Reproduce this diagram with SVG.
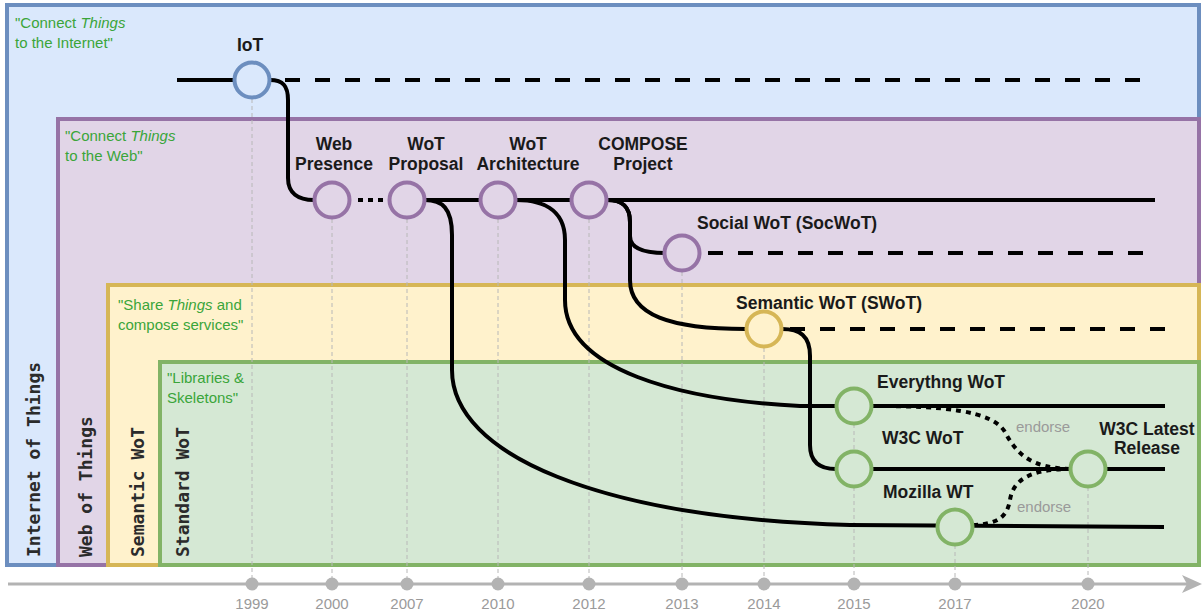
<svg xmlns="http://www.w3.org/2000/svg" width="1203" height="614" viewBox="0 0 1203 614">
<style>
.box{stroke-width:4}
.vlab{font-family:"DejaVu Sans Mono","Liberation Mono",monospace;font-weight:bold;font-size:18px;fill:#2b2b2b}
.quote{font-family:"Liberation Sans",Arial,sans-serif;font-size:15px;fill:#3aa53a}
.quote .it{font-style:italic}
.title{font-family:"Liberation Sans",Arial,sans-serif;font-weight:bold;font-size:17.5px;fill:#1a1a1a}
.mid{text-anchor:middle}
.year{font-family:"Liberation Sans",Arial,sans-serif;font-size:15px;fill:#9a9a9a;text-anchor:middle}
.guide{stroke:#b8b8b8;stroke-width:1;stroke-dasharray:4 3;fill:none}
.ln{stroke:#000;stroke-width:4;fill:none}
.dash{stroke-dasharray:15 15}
.dot{stroke-dasharray:5 5}
.endorse{font-family:"Liberation Sans",Arial,sans-serif;font-size:15px;fill:#9a9a9a}
.n{stroke-width:4}
.iot{fill:#dae8fc;stroke:#6c8ebf}
.wot{fill:#e1d5e7;stroke:#9673a6}
.sem{fill:#fff2cc;stroke:#d6b656}
.std{fill:#d5e8d4;stroke:#82b366}
</style>

<g id="layers">
  <g id="layer-iot">
    <rect class="box iot" x="7" y="5" width="1192" height="560"/>
    <text class="quote" x="15" y="28">"Connect <tspan class="it">Things</tspan></text>
    <text class="quote" x="15" y="48">to the Internet"</text>
    <text class="vlab" transform="translate(40,557) rotate(-90)">Internet of Things</text>
  </g>
  <g id="layer-wot">
    <rect class="box wot" x="58" y="119" width="1141" height="446"/>
    <text class="quote" x="65" y="141">"Connect <tspan class="it">Things</tspan></text>
    <text class="quote" x="65" y="161">to the Web"</text>
    <text class="vlab" transform="translate(92,557) rotate(-90)">Web of Things</text>
  </g>
  <g id="layer-semantic">
    <rect class="box sem" x="108" y="285" width="1091" height="280"/>
    <text class="quote" x="118" y="310">"Share <tspan class="it">Things</tspan> and</text>
    <text class="quote" x="118" y="330">compose services"</text>
    <text class="vlab" transform="translate(144,557) rotate(-90)">Semantic WoT</text>
  </g>
  <g id="layer-standard">
    <rect class="box std" x="160" y="362" width="1039" height="203"/>
    <text class="quote" x="167" y="383">"Libraries &amp;</text>
    <text class="quote" x="167" y="403">Skeletons"</text>
    <text class="vlab" transform="translate(189,557) rotate(-90)">Standard WoT</text>
  </g>
</g>

<g id="timeline">
  <line class="guide" x1="252" y1="99" x2="252" y2="584"/>
  <line class="guide" x1="332" y1="219" x2="332" y2="584"/>
  <line class="guide" x1="407" y1="219" x2="407" y2="584"/>
  <line class="guide" x1="498" y1="219" x2="498" y2="584"/>
  <line class="guide" x1="589" y1="219" x2="589" y2="584"/>
  <line class="guide" x1="682" y1="272" x2="682" y2="584"/>
  <line class="guide" x1="764" y1="348" x2="764" y2="584"/>
  <line class="guide" x1="854" y1="424" x2="854" y2="584"/>
  <line class="guide" x1="955" y1="545" x2="955" y2="584"/>
  <line class="guide" x1="1088" y1="487" x2="1088" y2="584"/>
  <line x1="8" y1="584" x2="1188" y2="584" stroke="#b3b3b3" stroke-width="3"/>
  <polygon points="1202,584 1182,575 1187,584 1182,593" fill="#b3b3b3"/>
  <g fill="#b3b3b3">
    <circle cx="252" cy="584" r="6.5"/>
    <circle cx="332" cy="584" r="6.5"/>
    <circle cx="407" cy="584" r="6.5"/>
    <circle cx="498" cy="584" r="6.5"/>
    <circle cx="589" cy="584" r="6.5"/>
    <circle cx="682" cy="584" r="6.5"/>
    <circle cx="764" cy="584" r="6.5"/>
    <circle cx="854" cy="584" r="6.5"/>
    <circle cx="955" cy="584" r="6.5"/>
    <circle cx="1088" cy="584" r="6.5"/>
  </g>
  <text class="year" x="252" y="609">1999</text>
  <text class="year" x="332" y="609">2000</text>
  <text class="year" x="407" y="609">2007</text>
  <text class="year" x="498" y="609">2010</text>
  <text class="year" x="589" y="609">2012</text>
  <text class="year" x="682" y="609">2013</text>
  <text class="year" x="764" y="609">2014</text>
  <text class="year" x="854" y="609">2015</text>
  <text class="year" x="955" y="609">2017</text>
  <text class="year" x="1088" y="609">2020</text>
</g>

<g id="connectors">
  <path class="ln" d="M177,80 L236,80"/>
  <path class="ln dash" d="M1140,80 L270,80"/>
  <path class="ln" d="M270,80 C283,80 288,86 288,100 L288,178 C288,193 298,200 314,200"/>
  <path class="ln dot" d="M358,200 L386,200"/>
  <path class="ln" d="M425,200 L1155,200"/>
  <path class="ln" d="M425,200 C442,200 452,208 452,235 L452,370 C452,455 600,518 850,525 L1164,527"/>
  <path class="ln" d="M516,200 C540,200 565,208 565,240 L565,300 C565,370 680,400 800,406 L1165,406"/>
  <path class="ln" d="M607,200 C622,200 630,206 630,222 L630,236 C630,248 642,253 665,253"/>
  <path class="ln dash" d="M1143,253 L701,253"/>
  <path class="ln" d="M607,200 C622,200 630,206 630,222 L630,280 C630,315 670,329 746,329"/>
  <path class="ln dash" d="M1165,329 L782,329"/>
  <path class="ln" d="M782,329 C800,329 810,336 810,356 L810,445 C810,462 820,469 836,469 L1165,469"/>
  <path class="ln dot" d="M876,406 C940,406 992,410 1005,432 C1017,455 1032,468 1070,469"/>
  <path class="ln dot" d="M973,525 C998,524 1007,517 1010,500 C1013,480 1030,469 1070,469"/>
  <text class="endorse" x="1016" y="432">endorse</text>
  <text class="endorse" x="1017" y="512">endorse</text>
</g>

<g id="node-iot">
  <circle class="n iot" cx="252" cy="80" r="17.5"/>
  <text class="title mid" x="250" y="51">IoT</text>
</g>
<g id="node-web-presence">
  <circle class="n wot" cx="332" cy="200" r="17.5"/>
  <text class="title mid" x="334" y="150">Web</text>
  <text class="title mid" x="334" y="170">Presence</text>
</g>
<g id="node-wot-proposal">
  <circle class="n wot" cx="407" cy="200" r="17.5"/>
  <text class="title mid" x="426" y="150">WoT</text>
  <text class="title mid" x="426" y="170">Proposal</text>
</g>
<g id="node-wot-architecture">
  <circle class="n wot" cx="498" cy="200" r="17.5"/>
  <text class="title mid" x="528" y="150">WoT</text>
  <text class="title mid" x="528" y="170">Architecture</text>
</g>
<g id="node-compose">
  <circle class="n wot" cx="589" cy="200" r="17.5"/>
  <text class="title mid" x="643" y="150">COMPOSE</text>
  <text class="title mid" x="643" y="170">Project</text>
</g>
<g id="node-socwot">
  <circle class="n wot" cx="682" cy="253" r="17.5"/>
  <text class="title" x="697" y="229">Social WoT (SocWoT)</text>
</g>
<g id="node-swot">
  <circle class="n sem" cx="764" cy="329" r="17.5"/>
  <text class="title" x="736" y="309">Semantic WoT (SWoT)</text>
</g>
<g id="node-everything">
  <circle class="n std" cx="854" cy="406" r="17.5"/>
  <text class="title" x="877" y="388">Everythng WoT</text>
</g>
<g id="node-w3c-wot">
  <circle class="n std" cx="854" cy="469" r="17.5"/>
  <text class="title" x="882" y="444">W3C WoT</text>
</g>
<g id="node-mozilla">
  <circle class="n std" cx="955" cy="527" r="17.5"/>
  <text class="title" x="883" y="498">Mozilla WT</text>
</g>
<g id="node-w3c-latest">
  <circle class="n std" cx="1088" cy="469" r="17.5"/>
  <text class="title mid" x="1147" y="435">W3C Latest</text>
  <text class="title mid" x="1147" y="454">Release</text>
</g>
</svg>
